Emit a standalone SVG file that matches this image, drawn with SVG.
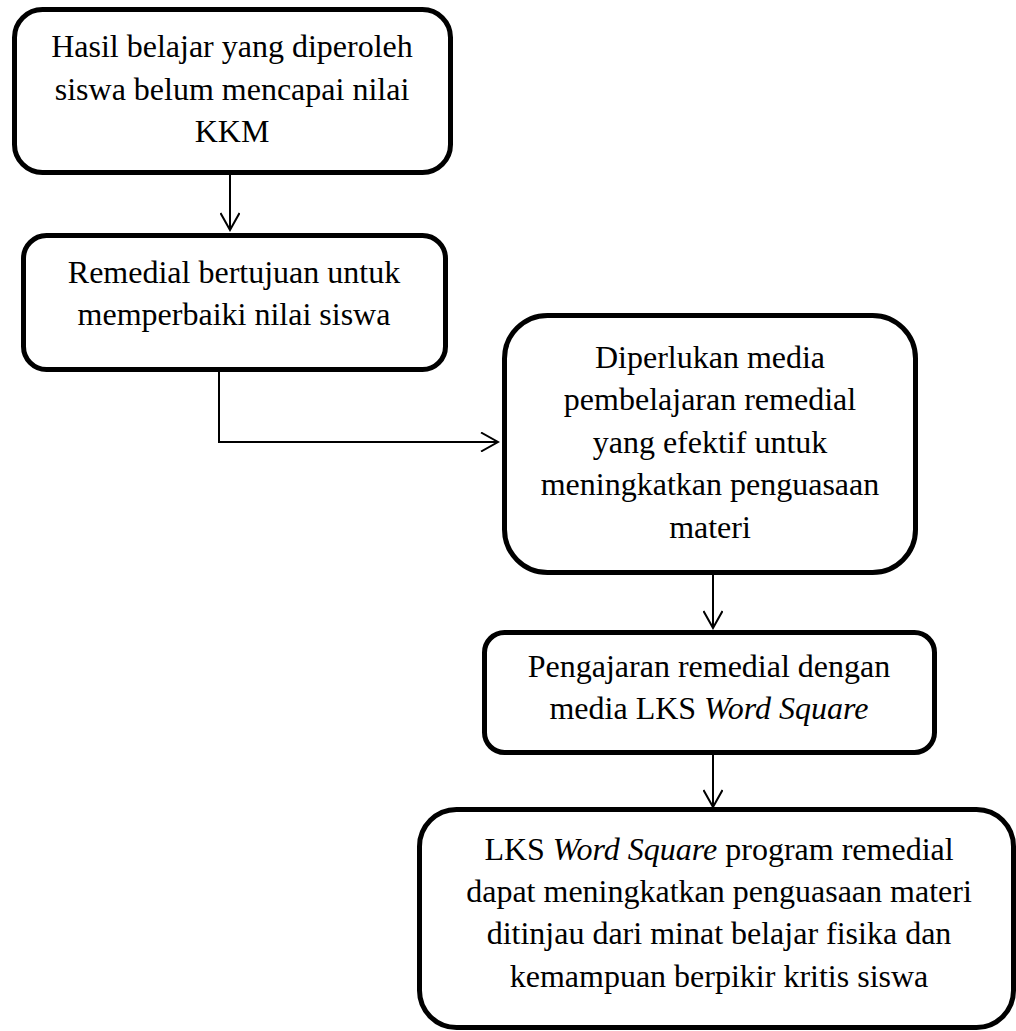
<svg xmlns="http://www.w3.org/2000/svg" width="1016" height="1031" viewBox="0 0 1016 1031">
<style>
.box{fill:#ffffff;stroke:#000000;stroke-width:5}
.t{font-family:"Liberation Serif","Times New Roman",serif;font-size:32px;fill:#000000;text-anchor:middle}
.i{font-style:italic}
.c{fill:none;stroke:#000000;stroke-width:2}
</style>
<defs>
<marker id="arr" viewBox="0 0 20 20" refX="18" refY="10" markerWidth="20" markerHeight="20" markerUnits="userSpaceOnUse" orient="auto">
<path d="M1,0.5 L18,10 L1,19.5" fill="none" stroke="#000000" stroke-width="2"/>
</marker>
</defs>
<rect width="1016" height="1031" fill="#ffffff"/>
<g id="connectors">
<path class="c" d="M230,175 L230,230" marker-end="url(#arr)"/>
<path class="c" d="M219,372 L219,442 L498,442" marker-end="url(#arr)"/>
<path class="c" d="M713,575 L713,628" marker-end="url(#arr)"/>
<path class="c" d="M713,755 L713,807" marker-end="url(#arr)"/>
</g>
<g id="node1">
<rect class="box" x="14.5" y="9.5" width="436" height="163" rx="28"/>
<text class="t" x="232" y="57">Hasil belajar yang diperoleh</text>
<text class="t" x="232" y="100">siswa belum mencapai nilai</text>
<text class="t" x="232" y="142">KKM</text>
</g>
<g id="node2">
<rect class="box" x="23.5" y="235.5" width="422" height="134" rx="23"/>
<text class="t" x="234" y="283">Remedial bertujuan untuk</text>
<text class="t" x="234" y="325">memperbaiki nilai siswa</text>
</g>
<g id="node3">
<rect class="box" x="504.5" y="315.5" width="411" height="257" rx="43"/>
<text class="t" x="710" y="368">Diperlukan media</text>
<text class="t" x="710" y="410">pembelajaran remedial</text>
<text class="t" x="710" y="453">yang efektif untuk</text>
<text class="t" x="710" y="495">meningkatkan penguasaan</text>
<text class="t" x="710" y="538">materi</text>
</g>
<g id="node4">
<rect class="box" x="484.5" y="632.5" width="450" height="120" rx="20"/>
<text class="t" x="709" y="677">Pengajaran remedial dengan</text>
<text class="t" x="709" y="719">media LKS <tspan class="i">Word Square</tspan></text>
</g>
<g id="node5">
<rect class="box" x="419.5" y="809.5" width="594" height="218" rx="37"/>
<text class="t" x="719" y="860">LKS <tspan class="i">Word Square</tspan> program remedial</text>
<text class="t" x="719" y="902">dapat meningkatkan penguasaan materi</text>
<text class="t" x="719" y="944">ditinjau dari minat belajar fisika dan</text>
<text class="t" x="719" y="987">kemampuan berpikir kritis siswa</text>
</g>
</svg>
